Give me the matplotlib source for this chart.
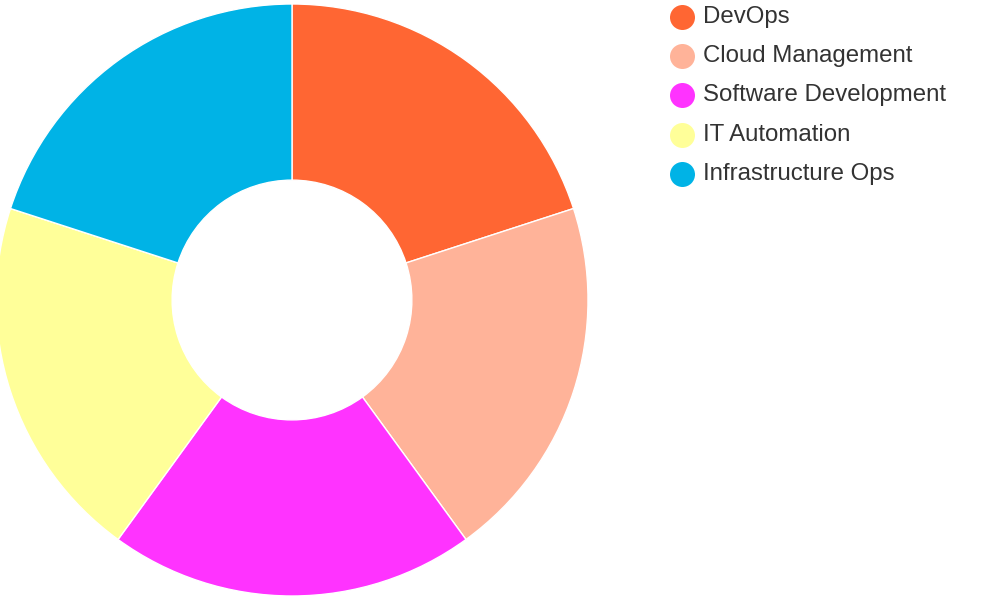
import matplotlib
matplotlib.use("Agg")
import matplotlib.pyplot as plt
from matplotlib.lines import Line2D

labels = ["DevOps", "Cloud Management", "Software Development", "IT Automation", "Infrastructure Ops"]
values = [20, 20, 20, 20, 20]
colors = ["#FF6633", "#FFB399", "#FF33FF", "#FFFF99", "#00B3E6"]

plt.rcParams['font.family'] = ['Liberation Sans', 'DejaVu Sans']

fig = plt.figure(figsize=(10, 6), dpi=100)

# donut: center (292, 300) px, outer radius 296 px
cx, cy, r = 292, 300, 296
ax = fig.add_axes([(cx - r) / 1000, (600 - cy - r) / 600, 2 * r / 1000, 2 * r / 600])
ax.pie(values, colors=colors, startangle=90, counterclock=False, radius=1,
       wedgeprops=dict(width=0.595, edgecolor='white', linewidth=1))
ax.set_xlim(-1, 1)
ax.set_ylim(-1, 1)
ax.axis('off')

# legend drawn by hand to match the spacing
for i, (name, c) in enumerate(zip(labels, colors)):
    y_px = 16.5 + i * 39.4
    fig.add_artist(Line2D([682 / 1000], [1 - y_px / 600], marker='o', markersize=18, color=c,
                          markeredgewidth=0, transform=fig.transFigure))
    fig.text(703 / 1000, 1 - (y_px + 6) / 600, name, fontsize=17.3, color='#333333',
             va='baseline', ha='left')

fig.savefig("out.png", dpi=100)
